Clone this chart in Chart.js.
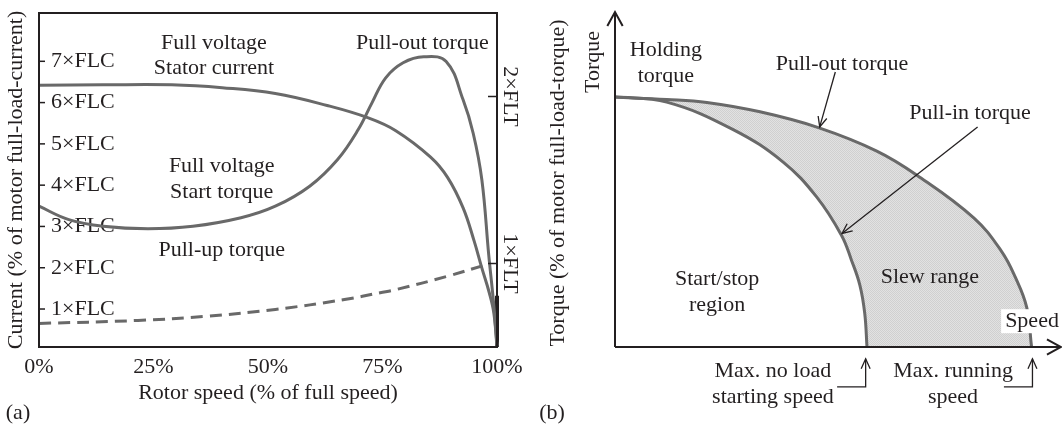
<!DOCTYPE html>
<html>
<head>
<meta charset="utf-8">
<script src="https://cdn.jsdelivr.net/npm/chart.js@4.4.1/dist/chart.umd.min.js"></script>
<style>
  html, body { margin: 0; padding: 0; background: #ffffff; }
  #wrap { position: relative; width: 1062px; height: 426px; overflow: hidden; }
  canvas { position: absolute; top: 0; }
  #chartA { left: 0; width: 540px; height: 426px; }
  #chartB { left: 540px; width: 522px; height: 426px; }
</style>
</head>
<body>
<div id="wrap">
  <canvas id="chartA" width="540" height="426"></canvas>
  <canvas id="chartB" width="522" height="426"></canvas>
</div>
<script>
// ---- Panel (a) data: rotor speed in % of full speed ----
const speedTicks = [0, 25, 50, 75, 100];
const currentTicks = [1, 2, 3, 4, 5, 6, 7];   // x FLC
const torqueTicks = [1, 2];                    // x FLT

// full voltage stator current (x FLC)
const currentSpeed = [0, 14, 29, 40, 51.6, 62.9, 71.9, 77.9, 85.5, 89.2, 92.6, 95, 96.7, 98.3, 99.3, 100];
const currentFLC   = [6.42, 6.43, 6.43, 6.36, 6.22, 5.93, 5.63, 5.32, 4.68, 4.19, 3.45, 2.65, 1.99, 1.40, 0.91, 0.08];

// full voltage start torque (x FLT)
const torqueSpeed = [0, 6.5, 14, 23.8, 33.6, 44.1, 51.6, 59.1, 65.2, 69.7, 72.7, 75.7, 79.5, 84, 88.9, 92.6, 94.8, 96.7, 98.2, 99.2, 100];
const torqueFLT   = [1.343, 1.263, 1.223, 1.208, 1.223, 1.274, 1.343, 1.463, 1.623, 1.802, 1.962, 2.112, 2.202, 2.238, 2.21, 1.98, 1.78, 1.50, 1.05, 0.78, 0.51];

// load torque, dashed (x FLT)
const loadSpeed = [0, 21.6, 36.6, 51.6, 66.7, 74.5, 78, 89.2, 98.5];
const loadFLT   = [0.641, 0.659, 0.684, 0.725, 0.784, 0.825, 0.844, 0.924, 1.0];

// dark stub where the curves meet the right edge (x FLC)
const edgeSpeed = [100, 100];
const edgeFLC   = [1.32, 0.08];

// ---- Panel (b) data: arbitrary speed / torque units 0..100 ----
const pullOutSpeed  = [0, 11.6, 20.6, 32.5, 45.6, 58.7, 67.7, 80.5, 86.7, 89.7, 92.3, 93.4];
const pullOutTorque = [74.6, 73.9, 73.0, 70.2, 65.5, 58.5, 51.3, 38.5, 28.5, 21.0, 11.9, 0];
const pullInSpeed   = [0, 11.6, 26.5, 37.7, 45.2, 50.8, 53.0, 54.9, 56.0, 56.5];
const pullInTorque  = [74.6, 73.1, 64.9, 55.2, 44.8, 33.3, 26.0, 18.5, 10.0, 0];

// text labels, positioned in each panel's data units
const labelsA = [
  ['Full voltage', 38.2, 7.44], ['Stator current', 38.2, 6.84],
  ['Pull-out torque', 83.7, 7.44],
  ['Full voltage', 39.9, 4.46], ['Start torque', 39.9, 3.83],
  ['Pull-up torque', 39.9, 2.43]
];
const labelsB = [
  ['Holding', 11.4, 88.6], ['torque', 11.4, 80.8],
  ['Pull-out torque', 50.9, 84.4],
  ['Pull-in torque', 79.6, 69.7],
  ['Start/stop', 22.9, 20.1], ['region', 22.9, 12.4],
  ['Slew range', 70.6, 20.7],
  ['Max. no load', 35.4, -7.2], ['starting speed', 35.4, -14.9],
  ['Max. running', 75.8, -7.2], ['speed', 75.8, -14.9]
];
const pointersB = [
  [[49.4, 82.1], [45.9, 65.7]],                 // pull-out torque
  [[81.3, 65.7], [50.9, 33.9]],                 // pull-in torque
  [[49.8, -11.9], [56.2, -11.9], [56.2, -3.5]], // max. no load starting speed
  [[87.2, -11.9], [93.6, -11.9], [93.6, -3.5]]  // max. running speed
];

// ---- styles ----
const styles = {
  font: '"Liberation Serif", "Times New Roman", serif',
  fontSize: 22,
  textColor: '#231f20',
  curveColor: '#696969',
  axisColor: '#231f20',
  curveWidth: 3
};

Chart.defaults.font.family = styles.font;
Chart.defaults.font.size = styles.fontSize;
Chart.defaults.color = styles.textColor;
Chart.defaults.animation = false;
Chart.defaults.plugins.legend.display = false;
Chart.defaults.plugins.tooltip.enabled = false;

const pts = (xs, ys) => xs.map((x, i) => ({ x: x, y: ys[i] }));
const fixTicks = list => scale => { scale.ticks = list.map(v => ({ value: v })); };
// pin an axis' thickness and drop the label overhang padding
const pinSize = (key, size) => scale => {
  scale[key] = size;
  scale.paddingTop = 0; scale.paddingBottom = 0;
  scale.paddingLeft = 0; scale.paddingRight = 0;
};

function line(ctx, x1, y1, x2, y2) {
  ctx.beginPath(); ctx.moveTo(x1, y1); ctx.lineTo(x2, y2); ctx.stroke();
}
function arrowHead(ctx, x1, y1, x2, y2, len, spread) {
  const ang = Math.atan2(y2 - y1, x2 - x1);
  ctx.beginPath();
  ctx.moveTo(x2 - len * Math.cos(ang - spread), y2 - len * Math.sin(ang - spread));
  ctx.lineTo(x2, y2);
  ctx.lineTo(x2 - len * Math.cos(ang + spread), y2 - len * Math.sin(ang + spread));
  ctx.stroke();
}
function setText(ctx) {
  ctx.font = styles.fontSize + 'px ' + styles.font;
  ctx.fillStyle = styles.textColor;
  ctx.textAlign = 'center';
  ctx.textBaseline = 'middle';
}

// Frame, inner ticks, right-hand FLT labels and annotations for panel (a)
const frameA = {
  id: 'frameA',
  afterDatasetsDraw(chart) {
    const { ctx, chartArea: a, scales } = chart;
    ctx.save();
    ctx.strokeStyle = styles.axisColor;
    ctx.lineWidth = 2;
    ctx.strokeRect(a.left, a.top, a.right - a.left, a.bottom - a.top);
    ctx.lineWidth = 1.5;
    scales.y.ticks.forEach(t => {
      const py = scales.y.getPixelForValue(t.value);
      line(ctx, a.left, py, a.left + 6, py);
    });
    setText(ctx);
    scales.y1.ticks.forEach(t => {
      const py = scales.y1.getPixelForValue(t.value);
      line(ctx, a.right - 9, py, a.right, py);
      ctx.save();
      ctx.translate(a.right + 13, py);
      ctx.rotate(Math.PI / 2);
      ctx.fillText(t.value + '×FLT', 0, 0);
      ctx.restore();
    });
    labelsA.forEach(([txt, x, y]) => {
      ctx.fillText(txt, scales.x.getPixelForValue(x), scales.y.getPixelForValue(y));
    });
    ctx.fillText('(a)', 18, 413);
    ctx.restore();
  }
};

// Arrow axes, pointers and annotations for panel (b)
const frameB = {
  id: 'frameB',
  afterDatasetsDraw(chart) {
    const { ctx, scales } = chart;
    const X = v => scales.x.getPixelForValue(v);
    const Y = v => scales.y.getPixelForValue(v);
    ctx.save();
    ctx.strokeStyle = styles.axisColor;
    ctx.lineWidth = 2;
    line(ctx, X(0), Y(0), X(0), Y(100));
    arrowHead(ctx, X(0), Y(0), X(0), Y(100), 16, 0.5);
    line(ctx, X(0), Y(0), X(100), Y(0));
    arrowHead(ctx, X(0), Y(0), X(100), Y(0), 16, 0.5);

    ctx.lineWidth = 1.3;
    pointersB.forEach(p => {
      ctx.beginPath();
      p.forEach(([x, y], i) => i ? ctx.lineTo(X(x), Y(y)) : ctx.moveTo(X(x), Y(y)));
      ctx.stroke();
      const a = p[p.length - 2], b = p[p.length - 1];
      arrowHead(ctx, X(a[0]), Y(a[1]), X(b[0]), Y(b[1]), 11, 0.42);
    });

    setText(ctx);
    labelsB.forEach(([txt, x, y]) => ctx.fillText(txt, X(x), Y(y)));

    // "Speed" sits on a white box over the pull-out curve
    const sw = ctx.measureText('Speed').width;
    ctx.fillStyle = '#ffffff';
    ctx.fillRect(X(93.5) - sw / 2 - 4, Y(7.7) - 12, sw + 8, 24);
    ctx.fillStyle = styles.textColor;
    ctx.fillText('Speed', X(93.5), Y(7.7));

    ctx.save();
    ctx.translate(X(0) - 22, 62);
    ctx.rotate(-Math.PI / 2);
    ctx.fillText('Torque', 0, 0);
    ctx.restore();
    ctx.save();
    ctx.translate(18, 183);
    ctx.rotate(-Math.PI / 2);
    ctx.fillText('Torque (% of motor full-load-torque)', 0, 0);
    ctx.restore();

    ctx.fillText('(b)', 12, 413);
    ctx.restore();
  }
};

const curve = extra => Object.assign({
  borderColor: styles.curveColor,
  borderWidth: styles.curveWidth,
  pointRadius: 0,
  tension: 0.4,
  fill: false,
  clip: false
}, extra);

const hiddenGrid = { display: false, drawTicks: false };

const configA = {
  type: 'line',
  data: {
    datasets: [
      curve({ label: 'Stator current', data: pts(currentSpeed, currentFLC), yAxisID: 'y' }),
      curve({ label: 'Start torque', data: pts(torqueSpeed, torqueFLT), yAxisID: 'y1' }),
      curve({ label: 'Pull-up torque', data: pts(loadSpeed, loadFLT), yAxisID: 'y1', borderDash: [12, 7] }),
      curve({ label: 'edge', data: pts(edgeSpeed, edgeFLC), yAxisID: 'y', borderColor: styles.axisColor, borderWidth: 4, tension: 0 })
    ]
  },
  options: {
    responsive: false,
    layout: { padding: { top: 13, left: 0, right: 0, bottom: 0 } },
    scales: {
      x: {
        type: 'linear', min: 0, max: 100,
        afterBuildTicks: fixTicks(speedTicks),
        afterFit: pinSize('height', 79),
        grid: hiddenGrid, border: { display: false },
        ticks: { padding: 7, maxRotation: 0, autoSkip: false, callback: v => v + '%' },
        title: { display: true, text: 'Rotor speed (% of full speed)', padding: { top: 0, bottom: 20 } }
      },
      y: {
        position: 'left', min: 0.08, max: 8.17,
        afterBuildTicks: fixTicks(currentTicks),
        afterFit: pinSize('width', 39),
        grid: hiddenGrid, border: { display: false },
        ticks: { mirror: true, padding: 12, callback: v => v + '×FLC' },
        title: { display: true, text: 'Current (% of motor full-load-current)', padding: { top: 3, bottom: 0 } }
      },
      y1: {
        position: 'right', min: 0.5, max: 2.5,
        afterBuildTicks: fixTicks(torqueTicks),
        afterFit: pinSize('width', 43),
        grid: hiddenGrid, border: { display: false },
        ticks: { display: false }
      }
    }
  },
  plugins: [frameA]
};

// fine dithered grey for the slew range
function slewPattern(ctx) {
  const c = document.createElement('canvas');
  c.width = 2; c.height = 2;
  const g = c.getContext('2d');
  g.fillStyle = '#e2e2e2'; g.fillRect(0, 0, 2, 2);
  g.fillStyle = '#d0d0d0';
  g.fillRect(0, 0, 1, 1); g.fillRect(1, 1, 1, 1);
  return ctx.createPattern(c, 'repeat');
}
const canvasB = document.getElementById('chartB');

const configB = {
  type: 'line',
  data: {
    datasets: [
      curve({ label: 'Pull-in torque', data: pts(pullInSpeed, pullInTorque), fill: 'origin', backgroundColor: '#ffffff', clip: 2 }),
      curve({ label: 'Pull-out torque', data: pts(pullOutSpeed, pullOutTorque), fill: 'origin', backgroundColor: slewPattern(canvasB.getContext('2d')), clip: 2 })
    ]
  },
  options: {
    responsive: false,
    layout: { padding: { left: 75, right: 1, top: 12, bottom: 79 } },
    scales: {
      x: { type: 'linear', display: false, min: 0, max: 100 },
      y: { display: false, min: 0, max: 100 }
    },
    plugins: { filler: { drawTime: 'beforeDatasetsDraw' } }
  },
  plugins: [frameB]
};

new Chart(document.getElementById('chartA'), configA);
new Chart(canvasB, configB);
</script>
</body>
</html>
